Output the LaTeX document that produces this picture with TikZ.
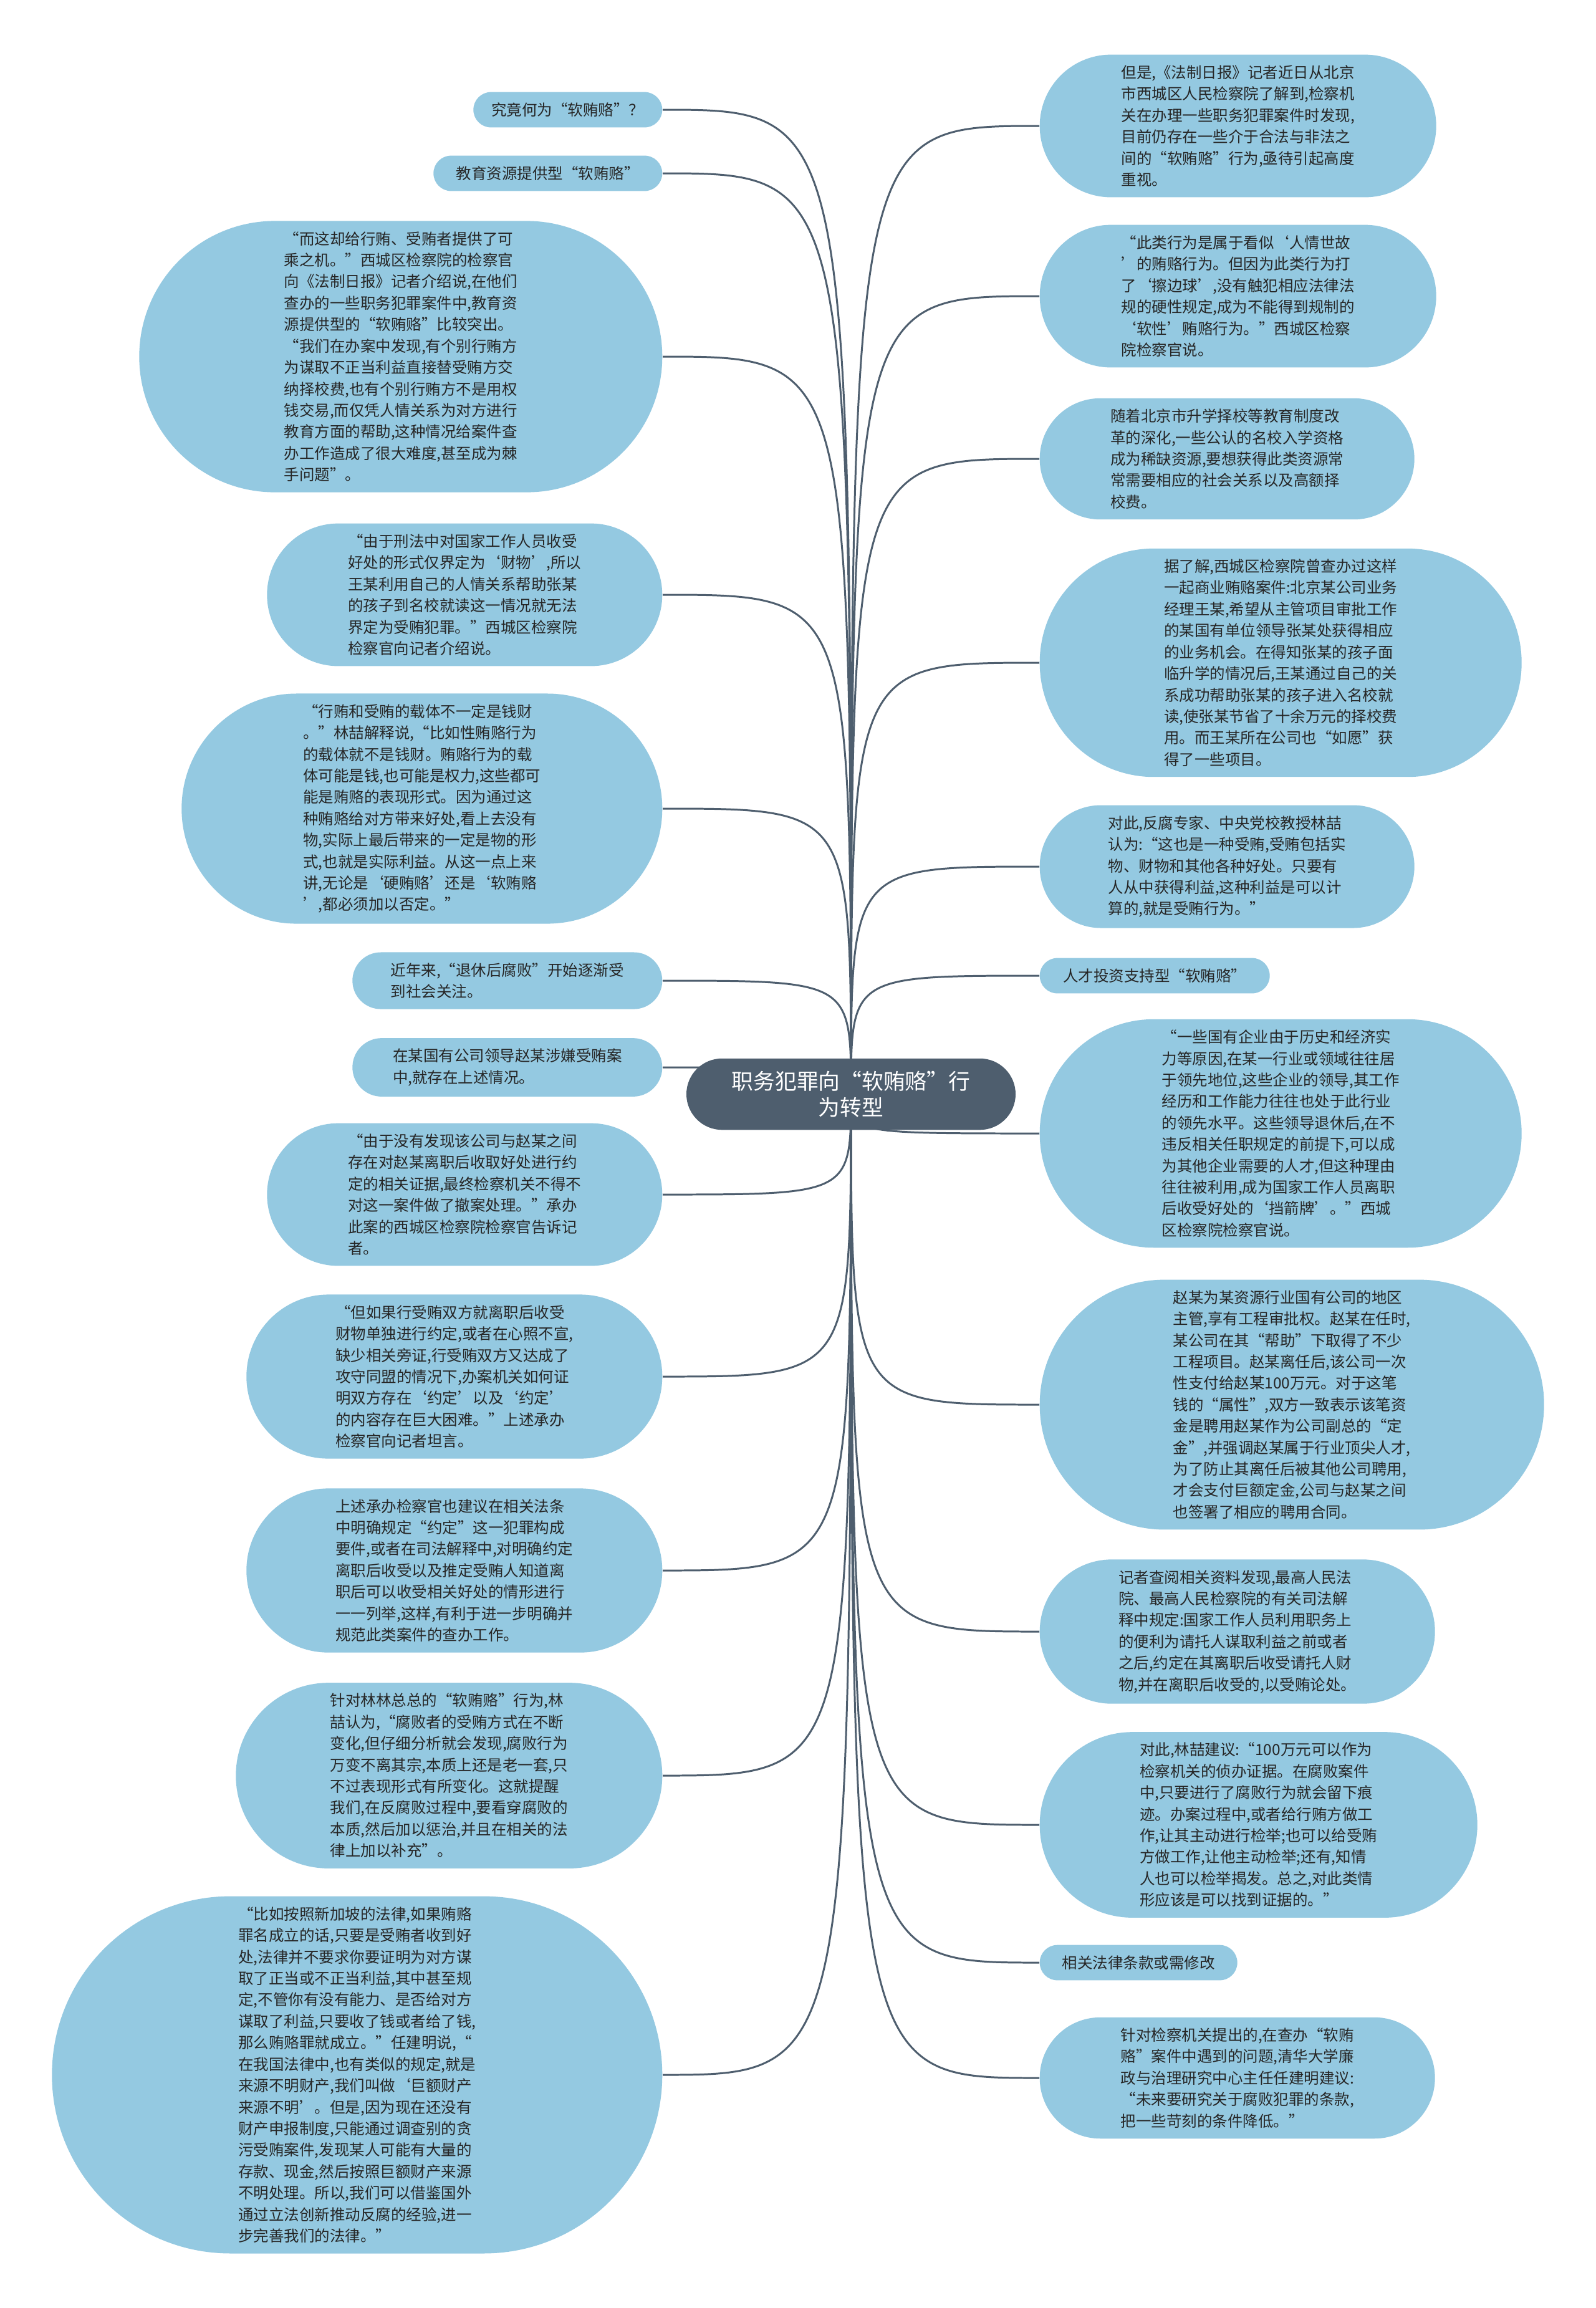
\documentclass[tikz,border=0pt]{standalone}
\usepackage{fontspec}
\setmainfont{Noto Sans CJK SC}
\usetikzlibrary{shapes.misc,backgrounds}
\definecolor{leafblue}{RGB}{148,201,225}
\definecolor{rootslate}{RGB}{78,94,110}
\definecolor{inkgray}{RGB}{38,38,38}
\begin{document}
\begin{tikzpicture}[
  leaf/.style={rounded rectangle, fill=leafblue, text=inkgray, align=left,
    font=\fontsize{6.97pt}{9.79pt}\selectfont, inner xsep=0.06cm, inner ysep=0.17cm},
  lleaf/.style={leaf, anchor=east},
  rleaf/.style={leaf, anchor=west},
  root/.style={rounded rectangle, fill=rootslate, text=white, align=center,
    font=\fontsize{9.9pt}{12pt}\selectfont, inner xsep=0.17cm, inner ysep=0.2cm},
  link/.style={draw=rootslate, line width=0.85pt}
]
\useasboundingbox (0,0) rectangle (25.6,-37.02);

% centre topic
\node[root, minimum width=5.62cm] (ctr) at (13.65,-17.55) {职务犯罪向“软贿赂”行\\为转型};

% left side
\node[lleaf, minimum width=3.15cm] (l1) at (10.63,-1.76) {究竟何为“软贿赂”？};
\node[lleaf, minimum width=3.79cm] (l2) at (10.63,-2.78) {教育资源提供型“软贿赂”};
\node[lleaf, minimum width=8.51cm] (l3) at (10.63,-5.72) {“而这却给行贿、受贿者提供了可\\乘之机。”西城区检察院的检察官\\向《法制日报》记者介绍说,在他们\\查办的一些职务犯罪案件中,教育资\\源提供型的“软贿赂”比较突出。\\“我们在办案中发现,有个别行贿方\\为谋取不正当利益直接替受贿方交\\纳择校费,也有个别行贿方不是用权\\钱交易,而仅凭人情关系为对方进行\\教育方面的帮助,这种情况给案件查\\办工作造成了很大难度,甚至成为棘\\手问题”。};
\node[lleaf, minimum width=6.46cm] (l4) at (10.63,-9.54) {“由于刑法中对国家工作人员收受\\好处的形式仅界定为‘财物’,所以\\王某利用自己的人情关系帮助张某\\的孩子到名校就读这一情况就无法\\界定为受贿犯罪。”西城区检察院\\检察官向记者介绍说。};
\node[lleaf, minimum width=7.83cm] (l5) at (10.63,-12.97) {“行贿和受贿的载体不一定是钱财\\。”林喆解释说,“比如性贿赂行为\\的载体就不是钱财。贿赂行为的载\\体可能是钱,也可能是权力,这些都可\\能是贿赂的表现形式。因为通过这\\种贿赂给对方带来好处,看上去没有\\物,实际上最后带来的一定是物的形\\式,也就是实际利益。从这一点上来\\讲,无论是‘硬贿赂’还是‘软贿赂\\’,都必须加以否定。”};
\node[lleaf, minimum width=5.09cm] (l6) at (10.63,-15.73) {近年来,“退休后腐败”开始逐渐受\\到社会关注。};
\node[lleaf, minimum width=5.09cm] (l7) at (10.63,-17.12) {在某国有公司领导赵某涉嫌受贿案\\中,就存在上述情况。};
\node[lleaf, minimum width=6.46cm] (l8) at (10.63,-19.16) {“由于没有发现该公司与赵某之间\\存在对赵某离职后收取好处进行约\\定的相关证据,最终检察机关不得不\\对这一案件做了撤案处理。”承办\\此案的西城区检察院检察官告诉记\\者。};
\node[lleaf, minimum width=6.79cm] (l9) at (10.63,-22.08) {“但如果行受贿双方就离职后收受\\财物单独进行约定,或者在心照不宣,\\缺少相关旁证,行受贿双方又达成了\\攻守同盟的情况下,办案机关如何证\\明双方存在‘约定’以及‘约定’\\的内容存在巨大困难。”上述承办\\检察官向记者坦言。};
\node[lleaf, minimum width=6.79cm] (l10) at (10.63,-25.19) {上述承办检察官也建议在相关法条\\中明确规定“约定”这一犯罪构成\\要件,或者在司法解释中,对明确约定\\离职后收受以及推定受贿人知道离\\职后可以收受相关好处的情形进行\\一一列举,这样,有利于进一步明确并\\规范此类案件的查办工作。};
\node[lleaf, minimum width=6.96cm] (l11) at (10.63,-28.48) {针对林林总总的“软贿赂”行为,林\\喆认为,“腐败者的受贿方式在不断\\变化,但仔细分析就会发现,腐败行为\\万变不离其宗,本质上还是老一套,只\\不过表现形式有所变化。这就提醒\\我们,在反腐败过程中,要看穿腐败的\\本质,然后加以惩治,并且在相关的法\\律上加以补充”。};
\node[lleaf, minimum width=9.91cm] (l12) at (10.63,-33.28) {“比如按照新加坡的法律,如果贿赂\\罪名成立的话,只要是受贿者收到好\\处,法律并不要求你要证明为对方谋\\取了正当或不正当利益,其中甚至规\\定,不管你有没有能力、是否给对方\\谋取了利益,只要收了钱或者给了钱,\\那么贿赂罪就成立。”任建明说,“\\在我国法律中,也有类似的规定,就是\\来源不明财产,我们叫做‘巨额财产\\来源不明’。但是,因为现在还没有\\财产申报制度,只能通过调查别的贪\\污受贿案件,发现某人可能有大量的\\存款、现金,然后按照巨额财产来源\\不明处理。所以,我们可以借鉴国外\\通过立法创新推动反腐的经验,进一\\步完善我们的法律。”};

% right side
\node[rleaf, minimum width=6.48cm] (r1) at (16.67,-2.02) {但是,《法制日报》记者近日从北京\\市西城区人民检察院了解到,检察机\\关在办理一些职务犯罪案件时发现,\\目前仍存在一些介于合法与非法之\\间的“软贿赂”行为,亟待引起高度\\重视。};
\node[rleaf, minimum width=6.48cm] (r2) at (16.67,-4.75) {“此类行为是属于看似‘人情世故\\’的贿赂行为。但因为此类行为打\\了‘擦边球’,没有触犯相应法律法\\规的硬性规定,成为不能得到规制的\\‘软性’贿赂行为。”西城区检察\\院检察官说。};
\node[rleaf, minimum width=6.13cm] (r3) at (16.67,-7.36) {随着北京市升学择校等教育制度改\\革的深化,一些公认的名校入学资格\\成为稀缺资源,要想获得此类资源常\\常需要相应的社会关系以及高额择\\校费。};
\node[rleaf, minimum width=7.85cm] (r4) at (16.67,-10.63) {据了解,西城区检察院曾查办过这样\\一起商业贿赂案件:北京某公司业务\\经理王某,希望从主管项目审批工作\\的某国有单位领导张某处获得相应\\的业务机会。在得知张某的孩子面\\临升学的情况后,王某通过自己的关\\系成功帮助张某的孩子进入名校就\\读,使张某节省了十余万元的择校费\\用。而王某所在公司也“如愿”获\\得了一些项目。};
\node[rleaf, minimum width=6.13cm] (r5) at (16.67,-13.90) {对此,反腐专家、中央党校教授林喆\\认为:“这也是一种受贿,受贿包括实\\物、财物和其他各种好处。只要有\\人从中获得利益,这种利益是可以计\\算的,就是受贿行为。”};
\node[rleaf, minimum width=3.81cm] (r6) at (16.67,-15.65) {人才投资支持型“软贿赂”};
\node[rleaf, minimum width=7.85cm] (r7) at (16.67,-18.18) {“一些国有企业由于历史和经济实\\力等原因,在某一行业或领域往往居\\于领先地位,这些企业的领导,其工作\\经历和工作能力往往也处于此行业\\的领先水平。这些领导退休后,在不\\违反相关任职规定的前提下,可以成\\为其他企业需要的人才,但这种理由\\往往被利用,成为国家工作人员离职\\后收受好处的‘挡箭牌’。”西城\\区检察院检察官说。};
\node[rleaf, minimum width=8.21cm] (r8) at (16.67,-22.53) {赵某为某资源行业国有公司的地区\\主管,享有工程审批权。赵某在任时,\\某公司在其“帮助”下取得了不少\\工程项目。赵某离任后,该公司一次\\性支付给赵某100万元。对于这笔\\钱的“属性”,双方一致表示该笔资\\金是聘用赵某作为公司副总的“定\\金”,并强调赵某属于行业顶尖人才,\\为了防止其离任后被其他公司聘用,\\才会支付巨额定金,公司与赵某之间\\也签署了相应的聘用合同。};
\node[rleaf, minimum width=6.46cm] (r9) at (16.67,-26.17) {记者查阅相关资料发现,最高人民法\\院、最高人民检察院的有关司法解\\释中规定:国家工作人员利用职务上\\的便利为请托人谋取利益之前或者\\之后,约定在其离职后收受请托人财\\物,并在离职后收受的,以受贿论处。};
\node[rleaf, minimum width=7.14cm] (r10) at (16.67,-29.27) {对此,林喆建议:“100万元可以作为\\检察机关的侦办证据。在腐败案件\\中,只要进行了腐败行为就会留下痕\\迹。办案过程中,或者给行贿方做工\\作,让其主动进行检举;也可以给受贿\\方做工作,让他主动检举;还有,知情\\人也可以检举揭发。总之,对此类情\\形应该是可以找到证据的。”};
\node[rleaf, minimum width=3.29cm] (r11) at (16.67,-31.48) {相关法律条款或需修改};
\node[rleaf, minimum width=6.46cm] (r12) at (16.67,-33.33) {针对检察机关提出的,在查办“软贿\\赂”案件中遇到的问题,清华大学廉\\政与治理研究中心主任任建明建议:\\“未来要研究关于腐败犯罪的条款,\\把一些苛刻的条件降低。”};

% connectors, behind the nodes
\begin{scope}[on background layer]
\fill[white] (0,0) rectangle (25.6,-37.02);
\draw[link] (ctr.center) .. controls (ctr.center |- l1.east) .. (l1.east);
\draw[link] (ctr.center) .. controls (ctr.center |- l2.east) .. (l2.east);
\draw[link] (ctr.center) .. controls (ctr.center |- l3.east) .. (l3.east);
\draw[link] (ctr.center) .. controls (ctr.center |- l4.east) .. (l4.east);
\draw[link] (ctr.center) .. controls (ctr.center |- l5.east) .. (l5.east);
\draw[link] (ctr.center) .. controls (ctr.center |- l6.east) .. (l6.east);
\draw[link] (ctr.center) .. controls (ctr.center |- l7.east) .. (l7.east);
\draw[link] (ctr.center) .. controls (ctr.center |- l8.east) .. (l8.east);
\draw[link] (ctr.center) .. controls (ctr.center |- l9.east) .. (l9.east);
\draw[link] (ctr.center) .. controls (ctr.center |- l10.east) .. (l10.east);
\draw[link] (ctr.center) .. controls (ctr.center |- l11.east) .. (l11.east);
\draw[link] (ctr.center) .. controls (ctr.center |- l12.east) .. (l12.east);
\draw[link] (ctr.center) .. controls (ctr.center |- r1.west) .. (r1.west);
\draw[link] (ctr.center) .. controls (ctr.center |- r2.west) .. (r2.west);
\draw[link] (ctr.center) .. controls (ctr.center |- r3.west) .. (r3.west);
\draw[link] (ctr.center) .. controls (ctr.center |- r4.west) .. (r4.west);
\draw[link] (ctr.center) .. controls (ctr.center |- r5.west) .. (r5.west);
\draw[link] (ctr.center) .. controls (ctr.center |- r6.west) .. (r6.west);
\draw[link] (ctr.center) .. controls (ctr.center |- r7.west) .. (r7.west);
\draw[link] (ctr.center) .. controls (ctr.center |- r8.west) .. (r8.west);
\draw[link] (ctr.center) .. controls (ctr.center |- r9.west) .. (r9.west);
\draw[link] (ctr.center) .. controls (ctr.center |- r10.west) .. (r10.west);
\draw[link] (ctr.center) .. controls (ctr.center |- r11.west) .. (r11.west);
\draw[link] (ctr.center) .. controls (ctr.center |- r12.west) .. (r12.west);
\end{scope}
\end{tikzpicture}
\end{document}
